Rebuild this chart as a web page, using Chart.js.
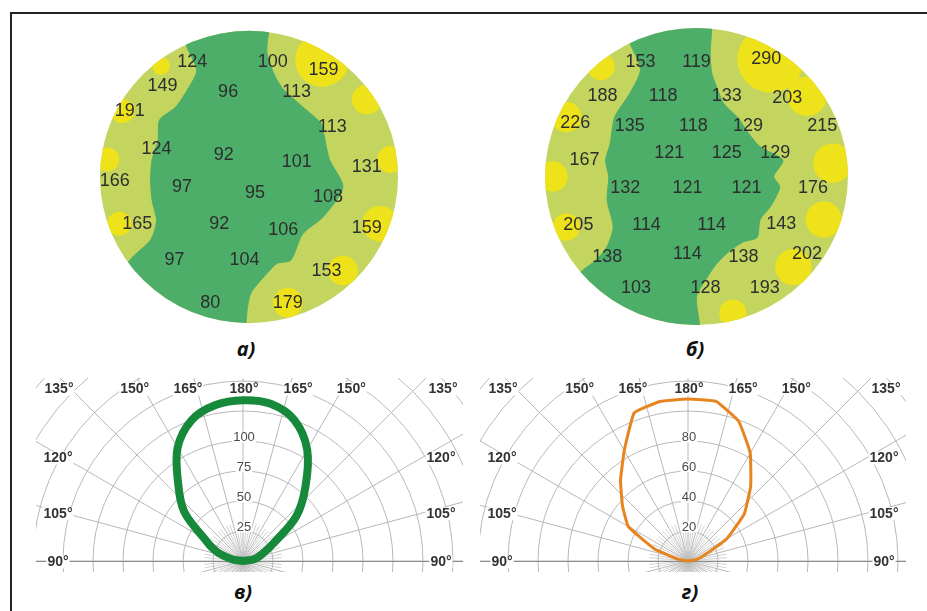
<!DOCTYPE html>
<html lang="ru">
<head>
<meta charset="UTF-8" />
<title>Освещённость и КСС</title>
<style>
    body {
        margin: 0;
        width: 927px;
        height: 611px;
        position: relative;
        overflow: hidden;
        background: #fff;
        font-family: "Liberation Sans", Arial, sans-serif;
    }

    .frame {
        position: absolute;
        left: 10px;
        top: 12px;
        right: -4px;
        bottom: -4px;
        border-top: 2px solid #222;
        border-left: 2px solid #222;
    }

    canvas {
        position: absolute;
    }

    .cap {
        position: absolute;
        width: 40px;
        text-align: center;
        font: italic bold 20px "Open Sans", "Liberation Sans", sans-serif;
        line-height: 20px;
        color: #111;
    }
</style>
<script src="https://cdn.jsdelivr.net/npm/chart.js"></script>
</head>
<body>
<div class="frame"></div>

<canvas id="mapA" width="310" height="304" style="left:94px; top:25px"></canvas>
<canvas id="mapB" width="315" height="309" style="left:539px; top:22px"></canvas>
<canvas id="polarV" width="427" height="194" style="left:36px; top:378px"></canvas>
<canvas id="polarG" width="426" height="194" style="left:480px; top:378px"></canvas>

<div class="cap" style="left:226px; top:339px">а)</div>
<div class="cap" style="left:675px; top:339px">б)</div>
<div class="cap" style="left:223px; top:582px">в)</div>
<div class="cap" style="left:670px; top:582px">г)</div>

<script>
    // ---- map а): readings and measuring points (circle radius = 100)
    const mapAValues = [124, 100, 159, 149, 96, 113, 191, 113, 124, 92, 101, 131, 166, 97, 95, 108, 165, 92, 106, 159, 97, 104, 153, 80, 179];
    const mapAX = [-38, 16, 50, -58, -14, 32, -80, 56, -62, -17, 32, 79, -90, -45, 4, 53, -75, -20, 23, 79, -50, -3, 52, -26, 26];
    const mapAY = [79, 79, 73, 62, 58, 58, 45, 34, 19, 15, 10, 7, -3, -7, -11, -14, -32, -32, -36, -35, -57, -57, -64, -86, -86];

    // low zone outline (dark green)
    const zoneAX = [-45, 15, 13, 12, 17, 23, 36, 48, 50, 54, 63, 50, 36, 28, 19, 12, 1, -2, -2, -100, -80, -66, -62, -65, -66, -65, -61, -60, -49, -40, -35, -42, -45];
    const zoneAY = [110, 110, 98, 85, 70, 60, 48, 37, 30, 12, -7, -27, -39, -57, -59, -66, -80, -99, -115, -90, -57, -43, -30, -16, -2, 12, 25, 39, 48, 62, 73, 90, 110];

    // high zones (yellow spots): centre and size
    const hotAX = [-59, 49, 79, 95, 88, 63, 26, -85, -95, -87];
    const hotAY = [76, 80, 53, 12, -32, -64, -86, 45, 12, -32];
    const hotAS = [6, 18, 10, 9, 12, 10, 10, 8, 8, 8];

    // ---- map б)
    const mapBValues = [153, 119, 290, 188, 118, 133, 203, 226, 135, 118, 129, 215, 167, 121, 125, 129, 132, 121, 121, 176, 205, 114, 114, 143, 138, 114, 138, 202, 103, 128, 193];
    const mapBX = [-37, 0, 46, -62, -22, 20, 60, -80, -44, -2, 34, 83, -74, -18, 20, 52, -47, -6, 33, 77, -78, -33, 10, 56, -59, -6, 31, 73, -40, 6, 45];
    const mapBY = [77, 77, 79, 54, 54, 54, 53, 36, 34, 34, 34, 34, 11, 16, 16, 16, -8, -8, -8, -8, -33, -33, -33, -32, -54, -52, -54, -52, -75, -75, -75];

    const zoneBX = [-50, 10, 10, 9, 10, 13, 18, 27, 33, 42, 57, 51, 55, 49, 42, 40, 31, 22, 13, 7, 0, 2, 2, -100, -77, -66, -59, -55, -59, -58, -60, -57, -54, -44, -37, -44, -50];
    const zoneBY = [112, 115, 99, 83, 70, 61, 49, 40, 31, 20, 11, 0, -7, -20, -29, -41, -44, -50, -59, -68, -81, -100, -115, -100, -65, -56, -47, -34, -16, 0, 11, 22, 40, 56, 72, 90, 112];

    const hotBX = [-63, 49, 73, -86, -95, -86, 90, 84, 64, 24];
    const hotBY = [74, 79, 54, 40, 0, -34, 9, -29, -61, -92];
    const hotBS = [9, 22, 13, 10, 10, 9, 13, 12, 12, 9];

    // ---- luminous intensity curves, gamma from 90 (horizontal) to 180 (up)
    const gamma = [90, 100, 110, 120, 130, 140, 150, 160, 170, 180];
    const curveVLeft = [0, 10, 24, 37, 64, 84, 109, 125, 132, 134];
    const curveVRight = [0, 10, 17, 29, 58, 81, 107, 125, 133, 134];
    const curveGLeft = [0, 7, 24, 46, 57, 70, 85, 105, 108, 108];
    const curveGRight = [0, 6, 12, 30, 49, 65, 83, 99, 108, 108];
    const ringTicksV = [25, 50, 75, 100];
    const ringTicksG = [20, 40, 60, 80];
    const angleTicks = [90, 105, 120, 135, 150, 165, 180];

    const DARK = "#4cae69";
    const LIGHT = "#c3d45f";
    const YELLOW = "#eee21b";
    const R = 100;

    const mapDisk = {
        id: "mapDisk",
        beforeDatasetsDraw(chart) {
            const { ctx, scales: { x, y } } = chart;
            const cx = x.getPixelForValue(0), cy = y.getPixelForValue(0);
            const rx = x.getPixelForValue(R) - cx, ry = cy - y.getPixelForValue(R);
            ctx.save();
            ctx.beginPath();
            ctx.ellipse(cx, cy, rx, ry, 0, 0, Math.PI * 2);
            ctx.fillStyle = LIGHT;
            ctx.fill();
            ctx.clip();
        },
        afterDatasetsDraw(chart) {
            const { ctx } = chart;
            ctx.restore();
            const pts = chart.getDatasetMeta(0).data;
            const raw = chart.data.datasets[0].data;
            ctx.font = '18px "Liberation Sans", Arial, sans-serif';
            ctx.fillStyle = "#2e2e2e";
            ctx.textAlign = "center";
            ctx.textBaseline = "middle";
            pts.forEach((p, i) => ctx.fillText(String(raw[i].v), p.x, p.y));
        }
    };

    function makeMap(id, values, xs, ys, zx, zy, hx, hy, hs) {
        new Chart(document.getElementById(id), {
            type: "scatter",
            data: {
                datasets: [
                    { data: values.map((v, i) => ({ x: xs[i], y: ys[i], v: v })), pointRadius: 0 },
                    {
                        data: zx.map((x, i) => ({ x: x, y: zy[i] })),
                        showLine: true,
                        fill: "shape",
                        tension: 0.25,
                        backgroundColor: DARK,
                        borderColor: DARK,
                        borderWidth: 1,
                        pointRadius: 0
                    },
                    {
                        data: hx.map((x, i) => ({ x: x, y: hy[i], s: hs[i] })),
                        backgroundColor: YELLOW,
                        borderWidth: 0,
                        pointRadius: (c) => {
                            const s = c.chart.scales.x;
                            return c.raw.s * (s.getPixelForValue(1) - s.getPixelForValue(0));
                        }
                    }
                ]
            },
            options: {
                responsive: false,
                animation: false,
                events: [],
                layout: { padding: 0 },
                scales: {
                    x: { type: "linear", display: false, min: -104, max: 104 },
                    y: { type: "linear", display: false, min: -104, max: 104 }
                },
                plugins: { legend: { display: false }, tooltip: { enabled: false } }
            },
            plugins: [mapDisk]
        });
    }

    makeMap("mapA", mapAValues, mapAX, mapAY, zoneAX, zoneAY, hotAX, hotAY, hotAS);
    makeMap("mapB", mapBValues, mapBX, mapBY, zoneBX, zoneBY, hotBX, hotBY, hotBS);

    function boxText(ctx, text, cx, cy, h) {
        const w = ctx.measureText(text).width;
        ctx.fillStyle = "#fff";
        ctx.fillRect(cx - w / 2 - 1, cy - h / 2, w + 2, h);
        ctx.fillStyle = ctx.strokeStyle;
        ctx.fillText(text, cx, cy);
    }

    const polarGrid = {
        id: "polarGrid",
        beforeDatasetsDraw(chart, args, o) {
            const { ctx, chartArea: a, scales: { x, y } } = chart;
            const ox = x.getPixelForValue(0), oy = y.getPixelForValue(0);
            const ring = x.getPixelForValue(o.step) - ox;
            const rad = (d) => d * Math.PI / 180;

            ctx.save();
            ctx.beginPath();
            ctx.rect(a.left, a.top, a.right - a.left, a.bottom - a.top);
            ctx.clip();
            ctx.lineWidth = 1;
            ctx.strokeStyle = "#d2d2d2";
            for (let d = 0; d < 360; d += 5) {
                if (d % 15 === 0) continue;
                ctx.beginPath();
                ctx.moveTo(ox, oy);
                ctx.lineTo(ox + Math.sin(rad(d)) * ring * 1.3, oy - Math.cos(rad(d)) * ring * 1.3);
                ctx.stroke();
            }
            ctx.strokeStyle = "#b8b8b8";
            for (let i = 1; i <= 9; i++) {
                ctx.beginPath();
                ctx.arc(ox, oy, ring * i, 0, Math.PI * 2);
                ctx.stroke();
            }
            for (let d = 0; d < 360; d += 15) {
                ctx.beginPath();
                ctx.moveTo(ox, oy);
                ctx.lineTo(ox + Math.sin(rad(d)) * 600, oy - Math.cos(rad(d)) * 600);
                ctx.stroke();
            }
            ctx.strokeStyle = "#8c8c8c";
            ctx.beginPath();
            ctx.moveTo(a.left, oy + 0.5);
            ctx.lineTo(a.right, oy + 0.5);
            ctx.stroke();
            ctx.restore();

            ctx.save();
            ctx.textAlign = "center";
            ctx.textBaseline = "middle";

            // ring values on the vertical axis
            ctx.font = '13px "Liberation Sans", Arial, sans-serif';
            ctx.strokeStyle = "#4a4a4a";
            o.ticks.forEach((v) => {
                boxText(ctx, String(v), ox + 1, y.getPixelForValue(v) - 4, 11);
            });

            // angle labels
            ctx.font = 'bold 14px "Liberation Sans", Arial, sans-serif';
            ctx.strokeStyle = "#333";
            const topY = a.top + 11;
            const sideDx = 180;
            angleTicks.forEach((g) => {
                const phi = 180 - g;
                const t = g + "°";
                if (phi === 0) {
                    boxText(ctx, t, ox + 1, topY, 13);
                } else if (phi < 45) {
                    const dx = (oy - topY) * Math.tan(rad(phi)) + 9;
                    boxText(ctx, t, ox - dx, topY, 13);
                    boxText(ctx, t, ox + dx, topY, 13);
                } else if (phi === 45) {
                    boxText(ctx, t, a.left + 23, topY, 13);
                    boxText(ctx, t, a.right - 20, topY, 13);
                } else {
                    const ly = oy - (phi === 90 ? 0 : sideDx / Math.tan(rad(phi))) + 1;
                    boxText(ctx, t, a.left + 22, ly, 13);
                    boxText(ctx, t, a.right - 22, ly, 13);
                }
            });
            ctx.restore();
        }
    };

    function curvePoints(left, right) {
        const pts = [];
        gamma.forEach((g, i) => {
            const t = (180 - g) * Math.PI / 180;
            pts.push({ x: -left[i] * Math.sin(t), y: left[i] * Math.cos(t) });
        });
        for (let i = gamma.length - 2; i >= 0; i--) {
            const t = (180 - gamma[i]) * Math.PI / 180;
            pts.push({ x: right[i] * Math.sin(t), y: right[i] * Math.cos(t) });
        }
        return pts;
    }

    // box = pixels from the origin to the left, right, top and bottom edges
    function makePolar(id, pts, color, width, tension, step, ticks, pxPerStep, box) {
        const u = step / pxPerStep;
        new Chart(document.getElementById(id), {
            type: "scatter",
            data: {
                datasets: [{
                    data: pts,
                    showLine: true,
                    borderColor: color,
                    borderWidth: width,
                    borderJoinStyle: "round",
                    borderCapStyle: "round",
                    tension: tension,
                    pointRadius: 0
                }]
            },
            options: {
                responsive: false,
                animation: false,
                events: [],
                layout: { padding: 0 },
                scales: {
                    x: { type: "linear", display: false, min: -box[0] * u, max: box[1] * u },
                    y: { type: "linear", display: false, min: -box[3] * u, max: box[2] * u }
                },
                plugins: {
                    legend: { display: false },
                    tooltip: { enabled: false },
                    polarGrid: { step: step, ticks: ticks }
                }
            },
            plugins: [polarGrid]
        });
    }

    makePolar("polarV", curvePoints(curveVLeft, curveVRight), "#17893b", 8, 0.35, 25, ringTicksV, 30, [207, 220, 183, 11]);
    makePolar("polarG", curvePoints(curveGLeft, curveGRight), "#e8841f", 3, 0.1, 20, ringTicksG, 30, [208, 218, 183, 11]);
</script>
</body>
</html>
